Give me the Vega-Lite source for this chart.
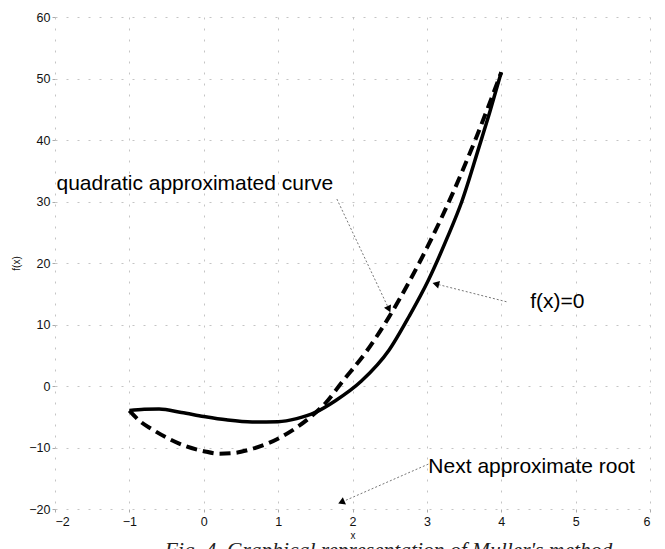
{
  "$schema": "https://vega.github.io/schema/vega-lite/v6.json",
  "width": 595,
  "height": 492,
  "autosize": "none",
  "padding": {"left": 55, "top": 17, "right": 15, "bottom": 40},
  "background": "white",
  "config": {
    "view": {"stroke": null},
    "axis": {
      "grid": true,
      "gridColor": "#c4c4c4",
      "gridDash": [2, 9],
      "gridWidth": 1,
      "domain": false,
      "tickColor": "#aaaaaa",
      "tickSize": 3,
      "labelFont": "Liberation Sans",
      "labelFontSize": 12.5,
      "labelColor": "#111111",
      "titleFont": "Liberation Sans",
      "titleFontWeight": "normal",
      "titleColor": "#111111",
      "titleFontSize": 10
    },
    "title": {"font": "Liberation Serif", "fontStyle": "italic", "fontWeight": "normal", "fontSize": 21.5, "color": "#222222"}
  },
  "title": {"text": "Fig. 4. Graphical representation of Muller's method", "orient": "bottom", "anchor": "middle", "offset": -1, "dx": 36},
  "datasets": {
    "curves": [
      {"x": -1.0, "y": -4.0, "curve": "f"},
      {"x": -0.8, "y": -3.8, "curve": "f"},
      {"x": -0.6, "y": -3.75, "curve": "f"},
      {"x": -0.3, "y": -4.3, "curve": "f"},
      {"x": 0.0, "y": -4.95, "curve": "f"},
      {"x": 0.3, "y": -5.5, "curve": "f"},
      {"x": 0.65, "y": -5.85, "curve": "f"},
      {"x": 1.0, "y": -5.8, "curve": "f"},
      {"x": 1.25, "y": -5.3, "curve": "f"},
      {"x": 1.5, "y": -4.3, "curve": "f"},
      {"x": 1.77, "y": -2.4, "curve": "f"},
      {"x": 2.12, "y": 0.8, "curve": "f"},
      {"x": 2.49, "y": 5.8, "curve": "f"},
      {"x": 2.76, "y": 11.3, "curve": "f"},
      {"x": 3.02, "y": 17.2, "curve": "f"},
      {"x": 3.27, "y": 24.0, "curve": "f"},
      {"x": 3.47, "y": 30.0, "curve": "f"},
      {"x": 3.7, "y": 38.8, "curve": "f"},
      {"x": 3.85, "y": 44.7, "curve": "f"},
      {"x": 4.0, "y": 51.0, "curve": "f"},
      {"x": -1.0, "y": -4.0, "curve": "q"},
      {"x": -0.85, "y": -5.8, "curve": "q"},
      {"x": -0.7, "y": -7.0, "curve": "q"},
      {"x": -0.45, "y": -8.7, "curve": "q"},
      {"x": -0.24, "y": -9.8, "curve": "q"},
      {"x": 0.0, "y": -10.6, "curve": "q"},
      {"x": 0.2, "y": -11.0, "curve": "q"},
      {"x": 0.4, "y": -10.9, "curve": "q"},
      {"x": 0.6, "y": -10.4, "curve": "q"},
      {"x": 0.87, "y": -9.3, "curve": "q"},
      {"x": 1.18, "y": -7.3, "curve": "q"},
      {"x": 1.45, "y": -4.9, "curve": "q"},
      {"x": 1.65, "y": -2.6, "curve": "q"},
      {"x": 1.85, "y": 0.5, "curve": "q"},
      {"x": 2.18, "y": 5.5, "curve": "q"},
      {"x": 2.49, "y": 11.2, "curve": "q"},
      {"x": 2.76, "y": 16.9, "curve": "q"},
      {"x": 3.06, "y": 23.9, "curve": "q"},
      {"x": 3.35, "y": 31.4, "curve": "q"},
      {"x": 3.66, "y": 40.3, "curve": "q"},
      {"x": 4.0, "y": 51.0, "curve": "q"}
    ],
    "arrows": [
      {"name": "quad", "x": 1.79, "y": 30.4, "x2": 2.49, "y2": 12.5},
      {"name": "fx", "x": 4.07, "y": 13.7, "x2": 3.12, "y2": 16.6},
      {"name": "root", "x": 3.02, "y": -12.7, "x2": 1.85, "y2": -18.9}
    ],
    "labels": [
      {"x": -1.98, "y": 32.8, "text": "quadratic approximated curve"},
      {"x": 4.39, "y": 13.7, "text": "f(x)=0"},
      {"x": 3.02, "y": -13.2, "text": "Next approximate root"}
    ]
  },
  "encoding": {
    "x": {"field": "x", "type": "quantitative", "scale": {"domain": [-2, 6], "nice": false}, "axis": {"title": "x", "tickCount": 8, "labelPadding": 3, "titlePadding": 3}},
    "y": {"field": "y", "type": "quantitative", "scale": {"domain": [-20, 60], "nice": false}, "axis": {"title": "f(x)", "tickCount": 8, "labelPadding": 2, "titlePadding": 7}}
  },
  "layer": [
    {
      "data": {"name": "curves"},
      "transform": [{"filter": "datum.curve === 'f'"}],
      "mark": {"type": "line", "color": "black", "strokeWidth": 3.5, "interpolate": "monotone"}
    },
    {
      "data": {"name": "curves"},
      "transform": [{"filter": "datum.curve === 'q'"}],
      "mark": {"type": "line", "color": "black", "strokeWidth": 4, "strokeDash": [11, 6], "interpolate": "monotone"}
    },
    {
      "data": {"name": "arrows"},
      "mark": {"type": "rule", "color": "#777777", "strokeWidth": 1, "strokeDash": [2, 2]},
      "encoding": {"x2": {"field": "x2"}, "y2": {"field": "y2"}}
    },
    {
      "data": {"name": "arrows"},
      "transform": [{"filter": "datum.name === 'quad'"}],
      "mark": {"type": "point", "shape": "triangle-up", "filled": true, "color": "black", "size": 60, "angle": 155, "opacity": 1},
      "encoding": {"x": {"field": "x2", "type": "quantitative"}, "y": {"field": "y2", "type": "quantitative"}}
    },
    {
      "data": {"name": "arrows"},
      "transform": [{"filter": "datum.name === 'fx'"}],
      "mark": {"type": "point", "shape": "triangle-up", "filled": true, "color": "black", "size": 60, "angle": 284, "opacity": 1},
      "encoding": {"x": {"field": "x2", "type": "quantitative"}, "y": {"field": "y2", "type": "quantitative"}}
    },
    {
      "data": {"name": "arrows"},
      "transform": [{"filter": "datum.name === 'root'"}],
      "mark": {"type": "point", "shape": "triangle-up", "filled": true, "color": "black", "size": 60, "angle": 246, "opacity": 1},
      "encoding": {"x": {"field": "x2", "type": "quantitative"}, "y": {"field": "y2", "type": "quantitative"}}
    },
    {
      "data": {"name": "labels"},
      "mark": {"type": "text", "align": "left", "baseline": "middle", "font": "Liberation Sans", "fontSize": 21, "color": "black"},
      "encoding": {"text": {"field": "text"}}
    }
  ]
}
